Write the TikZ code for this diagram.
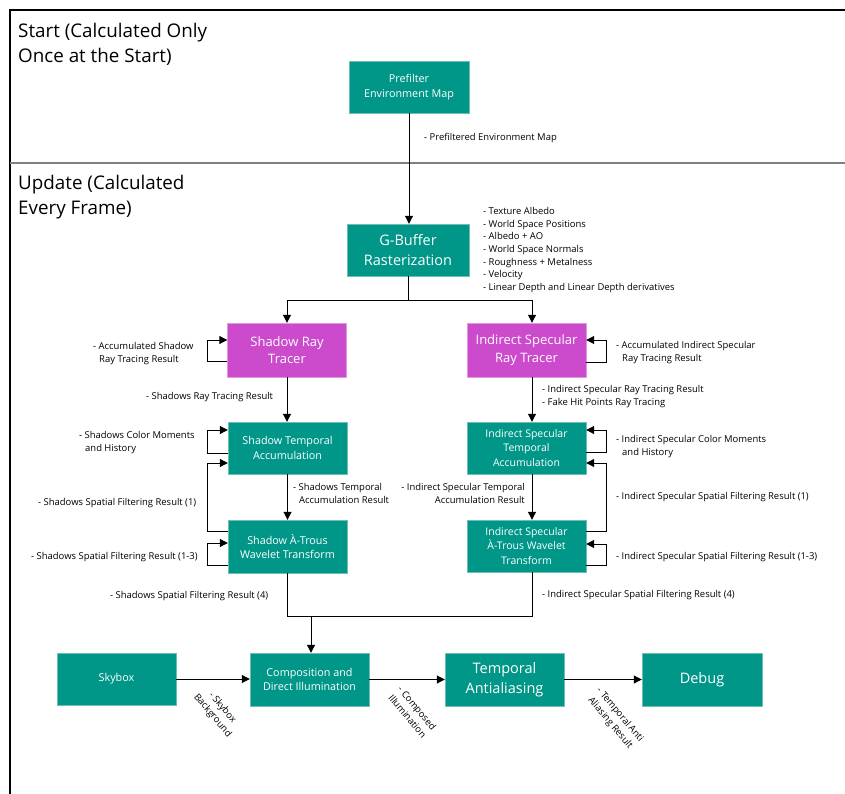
\documentclass[tikz,border=0pt]{standalone}
\usepackage{fontspec}
\setmainfont{Open Sans}
\usetikzlibrary{arrows.meta}
\definecolor{boxteal}{RGB}{0,150,136}
\definecolor{boxedge}{RGB}{110,190,180}
\definecolor{raymag}{RGB}{204,74,204}
\definecolor{rayedge}{RGB}{225,150,225}
\definecolor{sepgray}{RGB}{128,128,128}
\newcommand{\lblfont}{\fontsize{9.45}{12.7}\selectfont}
\newcommand{\boxfont}{\fontsize{10.8}{14.8}\selectfont}
\newcommand{\midfont}{\fontsize{13}{17.7}\selectfont}
\newcommand{\bigfont}{\fontsize{14.5}{20}\selectfont}
\newcommand{\titlefont}{\fontsize{18.8}{25}\selectfont}
\newcommand{\ind}{\hspace*{6pt}}

\begin{document}
\begin{tikzpicture}[x=1pt,y=-1pt,
    box/.style={draw=boxedge,fill=boxteal,text=white,align=center,minimum width=119pt,minimum height=52pt,inner sep=2pt,font=\boxfont},
    raybox/.style={box,draw=rayedge,fill=raymag,minimum height=54pt,font=\midfont},
    arrow/.style={-{Triangle[length=8pt,width=8pt]},line width=1pt},
    line/.style={line width=1pt},
    lbl/.style={anchor=west,align=left,inner sep=0pt,font=\lblfont},
    rotlbl/.style={anchor=north west,align=center,inner sep=0pt,font=\lblfont,rotate=-50},
    title/.style={anchor=west,align=left,inner sep=0pt,font=\titlefont}
  ]
  \useasboundingbox (0,0) rectangle (845,794);

  % frame
  \draw[line width=1.2pt] (845,10) -- (10,10) -- (10,794);
  \draw[sepgray,line width=2pt] (10,163.5) -- (845,163.5);
  \node[title] (tstart) at (18,44.5) {Start (Calculated Only\\Once at the Start)};
  \node[title] (tupdate) at (18,197) {Update (Calculated\\Every Frame)};

  % stages
  \node[box,minimum width=120pt] (pre) at (409,87) {Prefilter\\Environment Map};
  \node[box,font=\bigfont,minimum width=122pt] (gbuf) at (408,250) {G-Buffer\\Rasterization};
  \node[raybox] (srt) at (287,350) {Shadow Ray\\Tracer};
  \node[raybox] (irt) at (526.5,350) {Indirect Specular\\Ray Tracer};
  \node[box] (stemp) at (287.5,448) {Shadow Temporal\\Accumulation};
  \node[box,font=\fontsize{10.5}{14.3}\selectfont] (itemp) at (526.5,448) {Indirect Specular\\Temporal\\Accumulation};
  \node[box,minimum height=53pt] (satr) at (287.5,546.5) {Shadow À-Trous\\Wavelet Transform};
  \node[box,font=\fontsize{10.5}{14.3}\selectfont] (iatr) at (526.5,546) {Indirect Specular\\À-Trous Wavelet\\Transform};
  \node[box] (sky) at (116.5,679) {Skybox};
  \node[box,minimum height=53pt] (comp) at (309.5,679.5) {Composition and\\Direct Illumination};
  \node[box,font=\bigfont,minimum height=53pt] (taa) at (504.5,679.5) {Temporal\\Antialiasing};
  \node[box,font=\bigfont,minimum width=120pt,minimum height=53pt] (dbg) at (702,679.5) {Debug};

  % main flow
  \draw[arrow] (pre.south) -- (pre.south |- gbuf.north);
  \coordinate (split) at (408,300);
  \draw[line] (gbuf.south) -- (split);
  \draw[arrow] (split) -| (srt.north);
  \draw[arrow] (split) -| ([xshift=5.5pt]irt.north);
  \draw[arrow] (srt.south) -- (srt.south |- stemp.north);
  \draw[arrow] (stemp.south) -- (stemp.south |- satr.north);
  \draw[arrow] ([xshift=5.5pt]irt.south) -- ([xshift=5.5pt]itemp.north);
  \draw[arrow] ([xshift=5.5pt]itemp.south) -- ([xshift=5.5pt]iatr.north);
  \coordinate (merge) at (311,616);
  \draw[line] (satr.south) |- (merge);
  \draw[line] ([xshift=5.5pt]iatr.south) |- (merge);
  \draw[arrow] (merge) -- (merge |- comp.north);
  \draw[arrow] (sky.east) -- (sky.east -| comp.west);
  \draw[arrow] (comp.east) -- (comp.east -| taa.west);
  \draw[arrow] (taa.east) -- (taa.east -| dbg.west);

  % feedback loops
  \draw[arrow] ([yshift=-11pt]srt.west) -- ++(-20,0) |- ([yshift=10pt]srt.west);
  \draw[arrow] ([yshift=-12pt]irt.east) -- ++(20,0) |- ([yshift=10pt]irt.east);
  \draw[arrow] ([yshift=-5pt]stemp.west) -- ++(-20,0) |- ([yshift=18pt]stemp.west);
  \draw[arrow] ([yshift=15.5pt]satr.west) -- ++(-20,0) |- ([yshift=-15pt]stemp.west);
  \draw[arrow] ([yshift=-18.5pt]satr.west) -- ++(-20,0) |- ([yshift=3.5pt]satr.west);
  \draw[arrow] ([yshift=-4pt]itemp.east) -- ++(20,0) |- ([yshift=18pt]itemp.east);
  \draw[arrow] ([yshift=15pt]iatr.east) -- ++(20,0) |- ([yshift=-15pt]itemp.east);
  \draw[arrow] ([yshift=-19pt]iatr.east) -- ++(20,0) |- ([yshift=2pt]iatr.east);

  % data labels
  \node[lbl] (lpre) at (424,138) {- Prefiltered Environment Map};
  \node[lbl] (lgbuf) at (483,250) {- Texture Albedo\\- World Space Positions\\- Albedo + AO\\- World Space Normals\\- Roughness + Metalness\\- Velocity\\- Linear Depth and Linear Depth derivatives};
  \node[lbl] (lacs) at (93,353.5) {- Accumulated Shadow\\\ind Ray Tracing Result};
  \node[lbl] (lsrt) at (146,397) {- Shadows Ray Tracing Result};
  \node[lbl] (laci) at (616,352.5) {- Accumulated Indirect Specular\\\ind Ray Tracing Result};
  \node[lbl] (lirt) at (542,396.5) {- Indirect Specular Ray Tracing Result\\- Fake Hit Points Ray Tracing};
  \node[lbl] (lscm) at (79,442.5) {- Shadows Color Moments\\\ind and History};
  \node[lbl] (lsf1) at (38,503) {- Shadows Spatial Filtering Result (1)};
  \node[lbl] (lsta) at (293,493.5) {- Shadows Temporal\\\ind Accumulation Result};
  \node[lbl] (lsf13) at (31,557) {- Shadows Spatial Filtering Result (1-3)};
  \node[lbl] (lsf4) at (110,596) {- Shadows Spatial Filtering Result (4)};
  \node[lbl] (licm) at (616,446.5) {- Indirect Specular Color Moments\\\ind and History};
  \node[lbl] (lif1) at (616,497) {- Indirect Specular Spatial Filtering Result (1)};
  \node[lbl,anchor=east,align=right] (lita) at (525,493.5) {- Indirect Specular Temporal\\Accumulation Result};
  \node[lbl] (lif13) at (616,557) {- Indirect Specular Spatial Filtering Result (1-3)};
  \node[lbl] (lif4) at (542,595) {- Indirect Specular Spatial Filtering Result (4)};
  \node[rotlbl] (lsky) at (209,684) {- Skybox\\Background};
  \node[rotlbl] (lcomp) at (403,685) {- Composed\\Illumination};
  \node[rotlbl] (ltaa) at (602,686) {- Temporal Anti\\Aliasing Result};
\end{tikzpicture}
\end{document}
